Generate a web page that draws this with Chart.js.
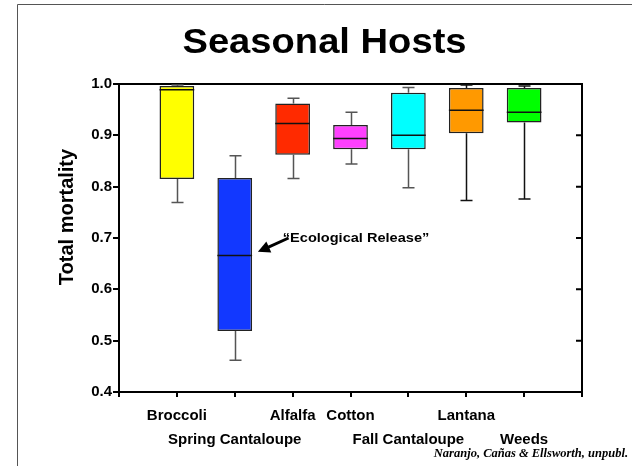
<!DOCTYPE html>
<html>
<head>
<meta charset="utf-8">
<script src="https://cdn.jsdelivr.net/npm/chart.js@4"></script>
<style>
  html, body { margin: 0; padding: 0; background: #fff; }
  canvas { display: block; }
</style>
</head>
<body>
<canvas id="hostsChart" width="632" height="466"></canvas>
<script>
"use strict";

// Box plot values
const hosts = ["Broccoli", "Spring Cantaloupe", "Alfalfa", "Cotton", "Fall Cantaloupe", "Lantana", "Weeds"];
const whiskerLow = [0.769, 0.462, 0.816, 0.844, 0.798, 0.773, 0.776];
const boxLow = [0.815, 0.519, 0.862, 0.873, 0.873, 0.904, 0.925];
const medians = [0.989, 0.666, 0.923, 0.894, 0.900, 0.949, 0.945];
const boxHigh = [0.996, 0.817, 0.962, 0.920, 0.983, 0.992, 0.992];
const whiskerHigh = [0.998, 0.860, 0.972, 0.945, 0.993, 0.998, 0.996];

const boxColors = ["#ffff00", "#1238ff", "#ff2a00", "#ff40ff", "#00ffff", "#ff9900", "#00ff00"];
const whiskerColors = ["#555", "#555", "#555", "#555", "#555", "#111", "#111"];
const labelRow = [0, 1, 0, 0, 1, 0, 1]; // second row for the long names

const sans = "'Liberation Sans', Arial, sans-serif";
const tickFont = { family: sans, size: 15, weight: "bold" };

const boxPlotExtras = {
  id: "boxPlotExtras",
  beforeDatasetsDraw(chart) {
    const { ctx, scales: { x, y } } = chart;
    ctx.save();
    ctx.lineWidth = 1.5;
    hosts.forEach((h, i) => {
      const cx = Math.round(x.getPixelForValue(i + 1)) + 0.5;
      ctx.strokeStyle = whiskerColors[i];
      ctx.beginPath();
      const hi = y.getPixelForValue(whiskerHigh[i]);
      const lo = y.getPixelForValue(whiskerLow[i]);
      ctx.moveTo(cx, y.getPixelForValue(boxHigh[i]));
      ctx.lineTo(cx, hi);
      ctx.moveTo(cx - 6, hi);
      ctx.lineTo(cx + 6, hi);
      ctx.moveTo(cx, y.getPixelForValue(boxLow[i]));
      ctx.lineTo(cx, lo);
      ctx.moveTo(cx - 6, lo);
      ctx.lineTo(cx + 6, lo);
      ctx.stroke();
    });
    ctx.restore();
  },
  afterDatasetsDraw(chart) {
    const { ctx, scales: { x, y } } = chart;
    const bars = chart.getDatasetMeta(0).data;
    ctx.save();
    ctx.strokeStyle = "#111";
    ctx.lineWidth = 1.5;
    hosts.forEach((h, i) => {
      const cx = x.getPixelForValue(i + 1);
      const half = bars[i].width / 2;
      const my = y.getPixelForValue(medians[i]);
      ctx.beginPath();
      ctx.moveTo(cx - half, my);
      ctx.lineTo(cx + half, my);
      ctx.stroke();
    });
    ctx.restore();
  },
  afterDraw(chart) {
    const { ctx, chartArea, scales: { x, y } } = chart;
    ctx.save();

    // slide frame
    ctx.strokeStyle = "#555";
    ctx.lineWidth = 1;
    ctx.beginPath();
    ctx.moveTo(632, 4.5);
    ctx.lineTo(17.5, 4.5);
    ctx.lineTo(17.5, 466);
    ctx.stroke();

    // inward ticks on the right axis
    ctx.strokeStyle = "#000";
    ctx.lineWidth = 2;
    ctx.beginPath();
    y.ticks.forEach((t) => {
      if (t.value <= 0.41 || t.value >= 0.99) return;
      const py = y.getPixelForValue(t.value);
      ctx.moveTo(chartArea.right - 6, py);
      ctx.lineTo(chartArea.right, py);
    });
    ctx.stroke();

    ctx.fillStyle = "#000";

    // title
    ctx.save();
    ctx.font = "bold 35px " + sans;
    ctx.textAlign = "center";
    ctx.textBaseline = "alphabetic";
    ctx.translate(324.5, 52.5);
    ctx.scale(1.09, 1);
    ctx.fillText("Seasonal Hosts", 0, 0);
    ctx.restore();

    // y axis title
    ctx.save();
    ctx.font = "bold 20px " + sans;
    ctx.textAlign = "center";
    ctx.textBaseline = "middle";
    ctx.translate(67, 217);
    ctx.rotate(-Math.PI / 2);
    ctx.fillText("Total mortality", 0, 0);
    ctx.restore();

    // annotation with arrow
    const tx = x.getPixelForValue(2.93), ty = y.getPixelForValue(0.70);
    const hx = x.getPixelForValue(2.40), hy = y.getPixelForValue(0.673);
    const ang = Math.atan2(hy - ty, hx - tx);
    ctx.lineWidth = 3;
    ctx.beginPath();
    ctx.moveTo(tx, ty);
    ctx.lineTo(hx - 8 * Math.cos(ang), hy - 8 * Math.sin(ang));
    ctx.stroke();
    ctx.beginPath();
    ctx.moveTo(hx, hy);
    ctx.lineTo(hx - 12 * Math.cos(ang) + 6 * Math.sin(ang), hy - 12 * Math.sin(ang) - 6 * Math.cos(ang));
    ctx.lineTo(hx - 12 * Math.cos(ang) - 6 * Math.sin(ang), hy - 12 * Math.sin(ang) + 6 * Math.cos(ang));
    ctx.closePath();
    ctx.fill();

    ctx.save();
    ctx.font = "bold 13px " + sans;
    ctx.textAlign = "left";
    ctx.textBaseline = "alphabetic";
    ctx.translate(x.getPixelForValue(2.83), y.getPixelForValue(0.692));
    ctx.scale(1.12, 1);
    ctx.fillText("\u201cEcological Release\u201d", 0, 0);
    ctx.restore();

    // credit line
    ctx.font = "italic bold 12.5px 'Liberation Serif', 'Times New Roman', serif";
    ctx.textAlign = "right";
    ctx.textBaseline = "alphabetic";
    ctx.fillText("Naranjo, Ca\u00f1as & Ellsworth, unpubl.", 628, 457);

    ctx.restore();
  },
};

const data = {
  datasets: [
    {
      label: "Total mortality",
      data: hosts.map((h, i) => ({ x: i + 1, y: [boxLow[i], boxHigh[i]] })),
      backgroundColor: boxColors,
      borderColor: "#222",
      borderWidth: 1.5,
      borderSkipped: false,
      barPercentage: 0.6,
      categoryPercentage: 1,
      xAxisID: "x",
      yAxisID: "y",
    },
  ],
};

const config = {
  type: "bar",
  data: data,
  options: {
    responsive: false,
    animation: false,
    devicePixelRatio: 1,
    layout: {
      padding: { left: 40, right: 50, top: 84, bottom: 14 },
    },
    plugins: {
      legend: { display: false },
      tooltip: { enabled: false },
    },
    scales: {
      x: {
        type: "linear",
        position: "bottom",
        min: 0,
        max: 8,
        offset: false,
        grid: { offset: false, drawOnChartArea: false, tickLength: 5, color: "#000", lineWidth: 2 },
        border: { color: "#000", width: 2 },
        ticks: {
          stepSize: 1,
          autoSkip: false,
          maxRotation: 0,
          minRotation: 0,
          padding: 7,
          color: "#000",
          font: Object.assign({ lineHeight: 1.6 }, tickFont),
          callback: function (value) {
            const i = value - 1;
            if (i < 0 || i >= hosts.length) return "";
            return labelRow[i] ? ["", hosts[i]] : hosts[i];
          },
        },
        afterFit: (s) => { s.height = 60; },
      },
      x2: {
        type: "linear",
        position: "top",
        min: 0,
        max: 8,
        grid: { display: false },
        border: { display: true, color: "#000", width: 2 },
        ticks: { display: false },
        afterFit: (s) => { s.height = 0; },
      },
      y: {
        type: "linear",
        position: "left",
        min: 0.4,
        max: 1.0,
        grid: { drawOnChartArea: false, tickLength: 6, color: "#000", lineWidth: 2 },
        border: { color: "#000", width: 2 },
        ticks: {
          stepSize: 0.1,
          padding: 1,
          color: "#000",
          font: tickFont,
          callback: (v) => v.toFixed(1),
        },
        afterFit: (s) => { s.width = 79; },
      },
      y2: {
        type: "linear",
        position: "right",
        min: 0.4,
        max: 1.0,
        grid: { display: false },
        border: { display: true, color: "#000", width: 2 },
        ticks: { display: false },
        afterFit: (s) => { s.width = 0; },
      },
    },
  },
  plugins: [boxPlotExtras],
};

const hostsChart = new Chart(document.getElementById("hostsChart"), config);
</script>
</body>
</html>
